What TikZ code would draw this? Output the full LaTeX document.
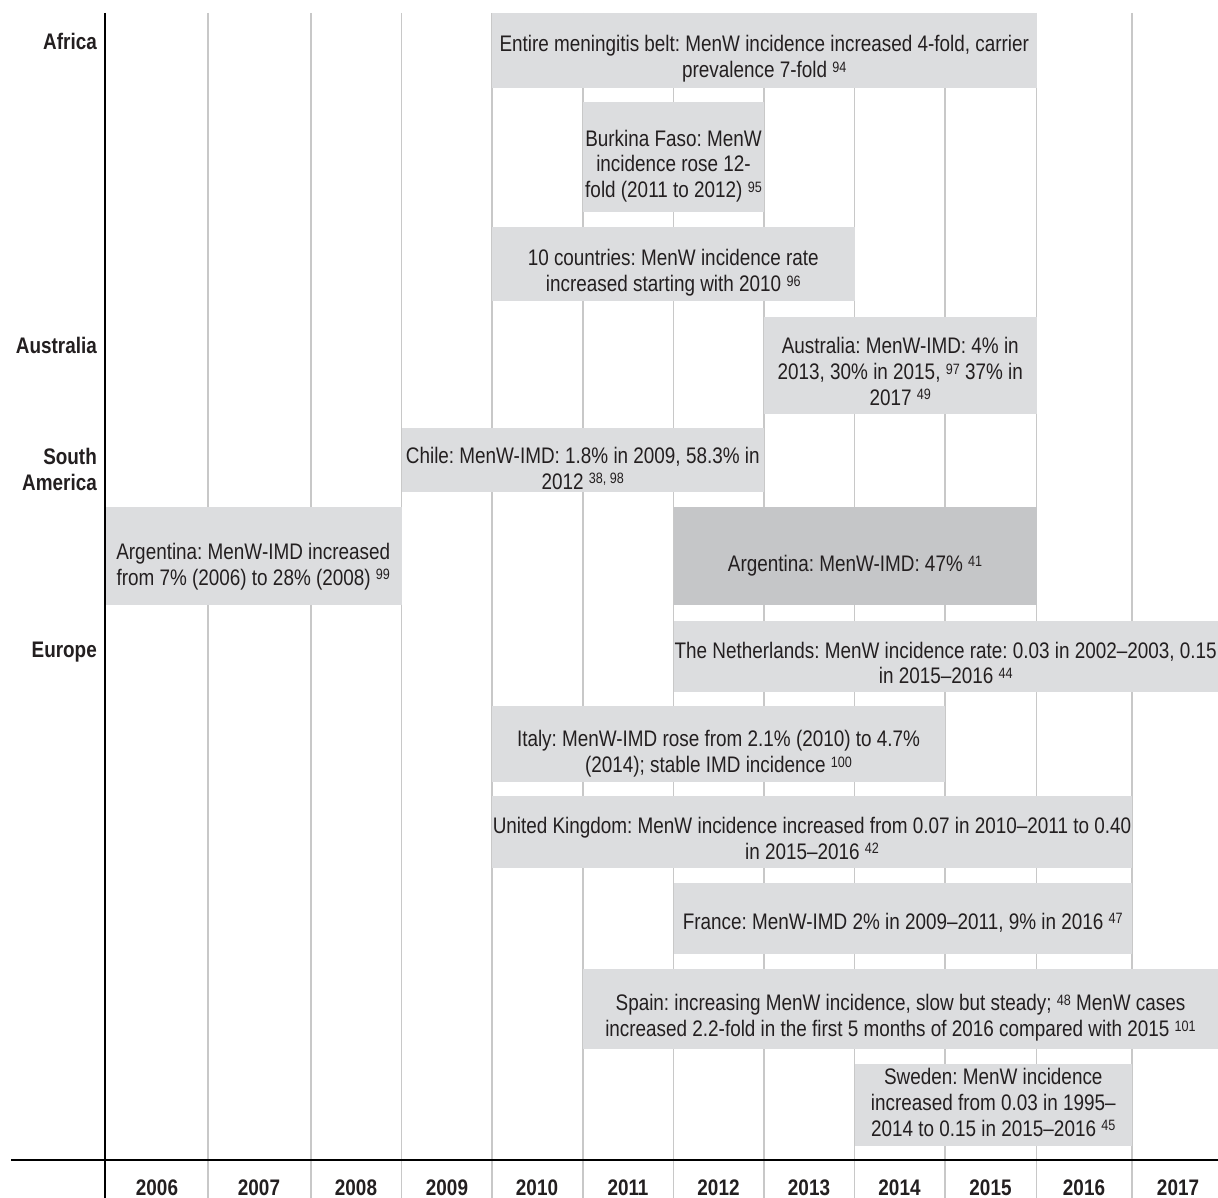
\documentclass[tikz,border=0pt]{standalone}
\usepackage{fontspec}
\setmainfont{Liberation Sans}[FakeStretch=0.84]
\usepackage{tikz}
\definecolor{barfill}{HTML}{DCDDDF}
\definecolor{bardark}{HTML}{C5C6C8}
\definecolor{gridgray}{HTML}{C8C8C8}
\definecolor{ink}{HTML}{231F20}
\frenchspacing
\newcommand{\refno}[1]{\raisebox{5.5pt}{\fontsize{15pt}{15pt}\selectfont #1}}
\tikzset{
    every node/.style={inner sep=0pt, text=ink, font=\fontsize{22.5pt}{25.7pt}\selectfont}
}
\tikzset{bar/.style={rectangle, fill=barfill}}
\tikzset{bartext/.style={align=center, inner sep=0pt}}
\tikzset{region/.style={align=right, font=\fontsize{22.5pt}{26pt}\selectfont\bfseries}}
\tikzset{year/.style={anchor=base, font=\fontsize{22.5pt}{26pt}\selectfont\bfseries}}
\tikzset{gridline/.style={draw=gridgray, line width=1.3pt}}

\begin{document}
\begin{tikzpicture}[x=1pt, y=-1pt]
    \useasboundingbox (0,0) rectangle (1218,1198);

    \foreach \gx in {208,311,401.5,492,583,673.5,764,854.5,945,1036.5,1132}
        \draw[gridline] (\gx,13) -- (\gx,1198);

    \node (africa) at (97,50) [region, anchor=base east] {Africa};
    \node (australia) at (97,353) [region, anchor=base east] {Australia};
    \node (samerica) at (97,469) [region, anchor=east] {South\\America};
    \node (europe) at (97,657) [region, anchor=base east] {Europe};

    % Africa
    \node (belt) at (764.25,50.5) [bar, minimum width=544.5, minimum height=75,
        label={[bartext, yshift=-8.5pt]center:{Entire meningitis belt: MenW incidence increased 4-fold, carrier\\prevalence 7-fold \refno{94}}}] {};
    \node (burkina) at (673.5,157) [bar, minimum width=181, minimum height=110,
        label={[bartext, yshift=-9pt]center:{Burkina Faso: MenW\\incidence rose 12-\\fold (2011 to 2012) \refno{95}}}] {};
    \node (tencountries) at (673.25,264) [bar, minimum width=362.5, minimum height=74,
        label={[bartext, yshift=-9pt]center:{10 countries: MenW incidence rate\\increased starting with 2010 \refno{96}}}] {};

    % Australia, South America
    \node (aus) at (900.25,365.5) [bar, minimum width=272.5, minimum height=97,
        label={[bartext, yshift=-6pt]center:{Australia: MenW-IMD: 4\% in\\2013, 30\% in 2015, \refno{97} 37\% in\\2017 \refno{49}}}] {};
    \node (chile) at (582.75,460) [bar, minimum width=362.5, minimum height=64,
        label={[bartext, yshift=-8.5pt]center:{Chile: MenW-IMD: 1.8\% in 2009, 58.3\% in\\2012 \refno{38, 98}}}] {};
    \node (argA) at (253.25,556) [bar, minimum width=296.5, minimum height=98,
        label={[bartext, yshift=-10.5pt]center:{Argentina: MenW-IMD increased\\from 7\% (2006) to 28\% (2008) \refno{99}}}] {};
    \node (argB) at (855,556) [bar, fill=bardark, minimum width=363, minimum height=98,
        label={[bartext, yshift=-10pt]center:{Argentina: MenW-IMD: 47\% \refno{41}}}] {};

    % Europe
    \node (nl) at (945.75,656.5) [bar, minimum width=544.5, minimum height=71,
        label={[bartext, yshift=-6.5pt]center:{The Netherlands: MenW incidence rate: 0.03 in 2002--2003, 0.15\\in 2015--2016 \refno{44}}}] {};
    \node (italy) at (718.5,744) [bar, minimum width=453, minimum height=76,
        label={[bartext, yshift=-10pt]center:{Italy: MenW-IMD rose from 2.1\% (2010) to 4.7\%\\(2014); stable IMD incidence \refno{100}}}] {};
    \node (uk) at (812,832) [bar, minimum width=640, minimum height=72,
        label={[bartext, yshift=-6.5pt]center:{United Kingdom: MenW incidence increased from 0.07 in 2010--2011 to 0.40\\in 2015--2016 \refno{42}}}] {};
    \node (france) at (902.75,918.5) [bar, minimum width=458.5, minimum height=71,
        label={[bartext, yshift=-4pt]center:{France: MenW-IMD 2\% in 2009--2011, 9\% in 2016 \refno{47}}}] {};
    \node (spain) at (900.5,1009) [bar, minimum width=635, minimum height=80,
        label={[bartext, yshift=-9pt]center:{Spain: increasing MenW incidence, slow but steady; \refno{48} MenW cases\\increased 2.2-fold in the first 5 months of 2016 compared with 2015 \refno{101}}}] {};
    \node (sweden) at (993.25,1105) [bar, minimum width=277.5, minimum height=82,
        label={[bartext, yshift=2.5pt]center:{Sweden: MenW incidence\\increased from 0.03 in 1995--\\2014 to 0.15 in 2015--2016 \refno{45}}}] {};

    % axes
    \draw[line width=1.4pt] (105,13) -- (105,1198);
    \draw[line width=1.4pt] (11,1160) -- (1218,1160);

    \foreach \yr/\cx in {2006/157,2007/259,2008/356,2009/447,2010/537,2011/628,2012/718.5,2013/809,2014/899.5,2015/990.5,2016/1084,2017/1178}
        \node (y\yr) at (\cx,1195) [year] {\yr};
\end{tikzpicture}
\end{document}
